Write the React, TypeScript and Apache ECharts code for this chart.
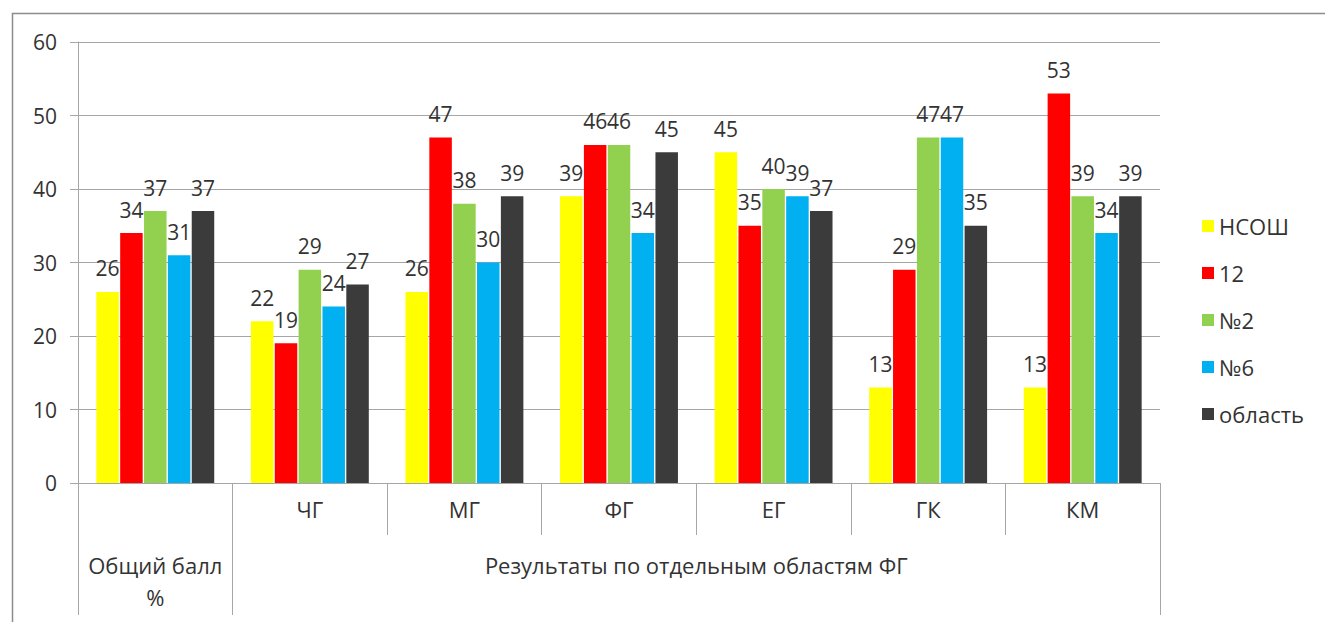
import React, { useEffect, useRef } from "react";
import * as echarts from "echarts";

const categories = ["", "ЧГ", "МГ", "ФГ", "ЕГ", "ГК", "КМ"];
const seriesNames = ["НСОШ", "12", "№2", "№6", "область"];
const nsosh = [26, 22, 26, 39, 45, 13, 13];
const s12 = [34, 19, 47, 46, 35, 29, 53];
const s2 = [37, 29, 38, 46, 40, 47, 39];
const s6 = [31, 24, 30, 34, 39, 47, 34];
const oblast = [37, 27, 39, 45, 37, 35, 39];
const colors = ["#FFFF00", "#FF0000", "#92D050", "#00B0F0", "#3B3B3B"];
const yTicks = [0, 10, 20, 30, 40, 50, 60];
const groupLabels = ["Общий балл\n%", "Результаты по отдельным областям ФГ"];

const FONT = "'Open Sans', Lato, sans-serif";

export default function App() {
  const ref = useRef<HTMLDivElement>(null);
  useEffect(() => {
    if (!ref.current) return;
    const chart = echarts.init(ref.current, undefined, { renderer: "svg" });
    const data = [nsosh, s12, s2, s6, oblast];
    chart.setOption({
      animation: false,
      textStyle: { fontFamily: FONT },
      graphic: [
        {
          type: "rect",
          shape: { x: 12.5, y: 13.5, width: 1400, height: 700 },
          style: { fill: "none", stroke: "#8C8C8C", lineWidth: 1.5 },
          silent: true,
          z: -10,
        },
      ],
      grid: { left: 78, top: 42, right: 165, bottom: 139, containLabel: false },
      legend: {
        orient: "vertical",
        left: 1197,
        top: 210,
        itemWidth: 12,
        itemGap: 25,
        itemHeight: 12,
        icon: "rect",
        textStyle: { fontSize: 22, color: "#333", fontFamily: FONT },
        data: seriesNames,
      },
      xAxis: [
        {
          type: "category",
          data: categories,
          position: "bottom",
          axisLine: { lineStyle: { color: "#A6A6A6", width: 1 } },
          axisTick: { show: true, interval: 0, length: 52, lineStyle: { color: "#A6A6A6" } },
          axisLabel: { interval: 0, fontSize: 22, color: "#333", margin: 15, fontFamily: FONT },
        },
        {
          type: "value",
          min: 0,
          max: 7,
          position: "bottom",
          axisLine: { show: false },
          splitLine: { show: false },
          axisTick: {
            show: true,
            length: 132,
            customValues: [0, 1, 7],
            lineStyle: { color: "#A6A6A6" },
          },
          axisLabel: {
            customValues: [0.5, 4],
            formatter: (v: number) => (v < 1 ? groupLabels[0] : groupLabels[1]),
            fontSize: 22,
            color: "#333",
            margin: 66,
            lineHeight: 32,
            fontFamily: FONT,
          },
        },
      ],
      yAxis: {
        type: "value",
        min: yTicks[0],
        max: yTicks[yTicks.length - 1],
        interval: 10,
        axisLine: { show: true, lineStyle: { color: "#A6A6A6" } },
        axisTick: { show: true, length: 8, lineStyle: { color: "#A6A6A6" } },
        splitLine: { show: true, lineStyle: { color: "#A6A6A6", width: 1 } },
        axisLabel: { fontSize: 21, color: "#333", margin: 21, fontFamily: FONT },
      },
      series: seriesNames.map((name, i) => ({
        name,
        type: "bar",
        xAxisIndex: 0,
        data: data[i],
        barWidth: 22.5,
        barGap: "6%",
        itemStyle: { color: colors[i] },
        label: {
          show: true,
          position: "top",
          distance: 13,
          fontSize: 21,
          color: "#333",
          fontFamily: FONT,
        },
      })),
    });
    return () => chart.dispose();
  }, []);
  return (
    <div
      ref={ref}
      style={{ position: "absolute", left: 0, top: 0, width: 1325, height: 622, background: "#fff" }}
    />
  );
}
